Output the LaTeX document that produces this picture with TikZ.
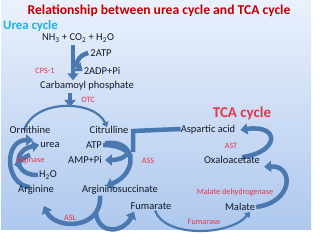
\documentclass[tikz,border=0pt]{standalone}
\usepackage{fontspec}
\setmainfont{Carlito}
\usetikzlibrary{arrows.meta}
\definecolor{titlered}{HTML}{C00000}
\definecolor{lblred}{HTML}{E8334A}
\definecolor{cyanc}{HTML}{1AB0E8}
\definecolor{arrblue}{HTML}{4A78B0}
\definecolor{txt}{HTML}{121A2A}
\definecolor{bgtop}{HTML}{EAF1FC}
\definecolor{bgbot}{HTML}{AEC8EE}
\pgfdeclarelayer{bglayer}
\pgfdeclarelayer{arrlayer}
\pgfsetlayers{bglayer,arrlayer,main}
\begin{document}
\begin{tikzpicture}[x=1pt,y=-1pt,
  lbl/.style={font=\fontsize{10.5}{12}\selectfont, text=txt, inner sep=0pt},
  enz/.style={font=\fontsize{8.2}{10}\selectfont, text=lblred, inner sep=0pt},
  fat/.style={draw=arrblue, line width=4.5pt, -{Triangle[width=11pt,length=7pt]}},
  fatplain/.style={draw=arrblue, line width=4.5pt},
  slim/.style={draw=arrblue, line width=2.2pt, -{Triangle[width=7pt,length=5pt]}}]
\useasboundingbox (0,0) rectangle (320,240);
\begin{pgfonlayer}{bglayer}
\fill[white] (0,0) rectangle (320,240);
\shade[top color=bgtop, bottom color=bgbot] (1,0) rectangle (311,229);
\end{pgfonlayer}

% titles
\node[font=\bfseries\fontsize{13.6}{15}\selectfont, text=titlered, inner sep=0pt] (title) at (159,11) {Relationship between urea cycle and TCA cycle};
\node[font=\bfseries\fontsize{12.8}{15}\selectfont, text=cyanc, inner sep=0pt, anchor=west] (uc) at (3,26) {Urea cycle};
\node[font=\bfseries\fontsize{15}{17}\selectfont, text=lblred, inner sep=0pt] (tca) at (242,113) {TCA cycle};

% urea cycle texts
\node[lbl] (nh3) at (78,38) {NH\textsubscript{3} + CO\textsubscript{2} + H\textsubscript{2}O};
\node[lbl] (atp2) at (101,53) {2ATP};
\node[lbl] (adp) at (102,71) {2ADP+Pi};
\node[enz] (cps) at (45,71) {CPS-1};
\node[lbl] (carb) at (87,86) {Carbamoyl phosphate};
\node[enz] (otc) at (88,100) {OTC};
\node[lbl] (orn) at (30,130) {Ornithine};
\node[lbl] (cit) at (109,130) {Citrulline};
\node[lbl] (urea) at (50,145) {urea};
\node[lbl] (atp) at (94,145) {ATP};
\node[enz] (argase) at (30,160) {Arginase};
\node[lbl] (amp) at (85,160) {AMP+Pi};
\node[enz] (ass) at (148,161) {ASS};
\node[lbl] (h2o) at (48,175) {H\textsubscript{2}O};
\node[lbl] (arg) at (36,190) {Arginine};
\node[lbl] (ais) at (120,190) {Argininosuccinate};
\node[lbl] (fum) at (151,206) {Fumarate};
\node[enz] (asl) at (70,218) {ASL};

% TCA texts
\node[lbl] (asp) at (208,130) {Aspartic acid};
\node[enz] (ast) at (231,146) {AST};
\node[lbl] (oxa) at (232,160) {Oxaloacetate};
\node[enz] (mdh) at (235,192) {Malate dehydrogenase};
\node[lbl] (mal) at (240,207) {Malate};
\node[enz] (fumase) at (204,222) {Fumarase};

\begin{pgfonlayer}{arrlayer}
% CPS-1 step
\draw[fat] ([yshift=-3pt]nh3.south -| 73,0) -- ([yshift=1pt]carb.north -| 73,0);
\draw[fat] ([xshift=-2pt]atp2.west) .. controls (76,56) and (76,66) .. ([xshift=-1pt]adp.west);

% OTC step
\draw[fat] ([yshift=-2pt]carb.south -| 70,0) -- (70,107);
\draw[slim] ([yshift=-4pt,xshift=-6pt]orn.north) .. controls (35,98) and (95,100) .. ([yshift=-1pt,xshift=-2pt]cit.north);

% Arginase step
\draw[fat] ([xshift=-6pt,yshift=-2pt]arg.north) .. controls (4,184) and (4,140) .. (33,140);
\draw[fat] ([xshift=-1pt]h2o.west) .. controls (14,176) and (12,150) .. ([xshift=-1pt]urea.west);
\draw[fatplain] (16,166) .. controls (20,160) and (26,156) .. (30,155);

% ASS step
\draw[fatplain] ([yshift=1pt]asp.west) -- (133,131) -- (133,152);
\draw[fat] ([xshift=3pt,yshift=-2pt]atp.north east) .. controls (135,138) and (140,172) .. ([xshift=-14pt,yshift=-1pt]ais.north);
\draw[fatplain] ([xshift=1pt]atp.east) .. controls (118,145) and (128,150) .. (131,157);
\draw[fat] (129,151) .. controls (126,158) and (118,160) .. ([xshift=3pt]amp.east);

% ASL step
\draw[fat] ([xshift=-20pt,yshift=-1pt]ais.south) .. controls (102,230) and (55,230) .. (44,206);
\draw[fat] (96,214) .. controls (100,236) and (124,232) .. ([xshift=-17pt,yshift=-2pt]fum.south);

% TCA steps
\draw[fat] ([xshift=10pt,yshift=-1pt]oxa.north) .. controls (280,152) and (280,124) .. ([xshift=5pt]asp.east);
\draw[fat] ([xshift=1pt]mal.east) .. controls (294,202) and (294,165) .. ([xshift=4pt,yshift=-3pt]oxa.south east);
\draw[slim] ([xshift=4pt,yshift=-1pt]fum.south) .. controls (165,238) and (230,236) .. ([xshift=10pt,yshift=-1pt]mal.south);
\end{pgfonlayer}
\end{tikzpicture}
\end{document}
